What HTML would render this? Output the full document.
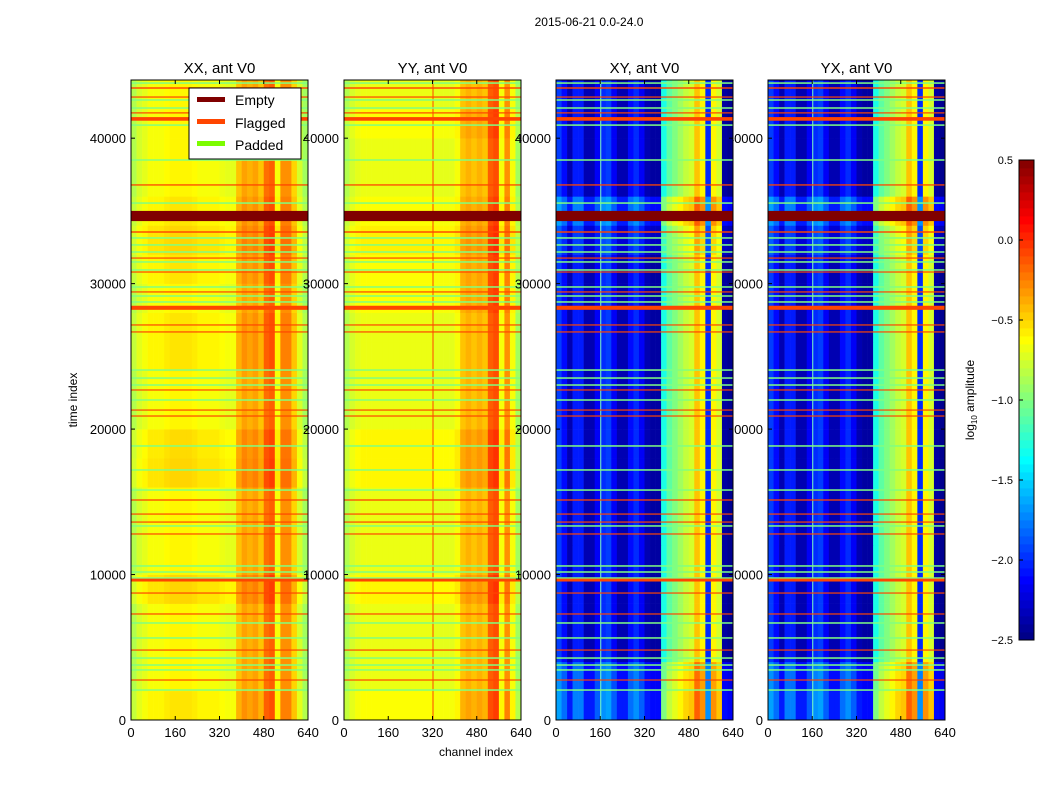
<!DOCTYPE html>
<html><head><meta charset="utf-8">
<style>
html,body{margin:0;padding:0;background:#fff;}
svg{display:block;font-family:"Liberation Sans","DejaVu Sans",sans-serif;}
</style></head>
<body>
<svg id="fig" width="1050" height="800" viewBox="0 0 1050 800">
<text x="589" y="26" font-size="12" text-anchor="middle">2015-06-21 0.0-24.0</text>
<text x="476" y="756" font-size="12" text-anchor="middle">channel index</text>
<text transform="translate(77,400) rotate(-90)" font-size="12" text-anchor="middle">time index</text>
<g id="labelsUnder"></g>
<g id="panels"></g>
<g id="labels"></g>
<g id="cbar"></g>
<text transform="translate(974,400) rotate(-90)" font-size="12" text-anchor="middle">log<tspan font-size="8" dy="3">10</tspan><tspan dy="-3"> amplitude</tspan></text>
<g id="legend">
<rect x="189" y="88" width="112" height="71" fill="#fff" stroke="#000" stroke-width="1"/>
<rect x="197" y="97" width="28" height="5" fill="#800000"/>
<text x="235" y="105" font-size="14">Empty</text>
<rect x="197" y="119" width="28" height="5" fill="#ff4500"/>
<text x="235" y="128" font-size="14">Flagged</text>
<rect x="197" y="141" width="28" height="5" fill="#7cfc00"/>
<text x="235" y="150" font-size="14">Padded</text>
</g>
</svg>
<script>
const panelTitles = ["XX, ant V0","YY, ant V0","XY, ant V0","YX, ant V0"];
const xTicks = [0,160,320,480,640];
const yTicks = [0,10000,20000,30000,40000];
const cbTicks = [0.5,0.0,-0.5,-1.0,-1.5,-2.0,-2.5];
// column profiles: 32 columns of 20 channels, log10 amplitude
const colXX = [-0.85,-0.75,-0.7,-0.65,-0.65,-0.65,-0.62,-0.6,-0.6,-0.6,-0.6,-0.62,-0.65,-0.65,-0.65,-0.65,-0.68,-0.7,-0.7,-0.45,-0.35,-0.4,-0.35,-0.45,-0.2,-0.15,-0.65,-0.3,-0.3,-0.5,-0.75,-0.9];
const colYY = [-0.85,-0.75,-0.7,-0.68,-0.68,-0.68,-0.68,-0.68,-0.68,-0.68,-0.68,-0.68,-0.68,-0.68,-0.68,-0.68,-0.7,-0.7,-0.7,-0.7,-0.65,-0.45,-0.4,-0.45,-0.4,-0.45,-0.15,-0.1,-0.65,-0.3,-0.65,-0.9];
const colXY = [-1.95,-2.1,-2.35,-2.05,-2.05,-2.35,-2.35,-2.15,-2.0,-1.95,-2.15,-2.35,-2.35,-2.1,-2.0,-2.15,-2.35,-2.4,-2.4,-1.3,-1.1,-1.0,-0.9,-0.8,-0.75,-0.45,-0.6,-2.0,-0.6,-0.75,-2.4,-2.45];
const colYX = [-1.95,-2.1,-2.35,-2.05,-2.05,-2.35,-2.35,-2.15,-2.0,-1.95,-2.15,-2.35,-2.35,-2.1,-2.0,-2.15,-2.35,-2.4,-2.4,-1.3,-1.1,-1.0,-0.9,-0.8,-0.75,-0.45,-0.6,-2.0,-0.6,-0.75,-2.4,-2.45];
// row offsets: 22 bins of 2000 time units, bottom to top
const rowXX = [0.05,0,0,0,0.1,0,0,0,0.1,0.08,0,0,0.05,0.05,0,0.05,0.1,0.05,0,0,0,0];
const rowYY = [0.05,0,0,0,0.08,0,0,0,0.08,0.08,0,0,0,0,0.05,0.05,0.1,0.05,0,0,0.05,0];
const rowXY = [0.3,0.25,0,0,0,0,0,0,0,0,0,0,0,0,0,0,0.1,0.3,0,0,0,0];
const rowYX = [0.3,0.25,0,0,0,0,0,0,0,0,0,0,0,0,0,0,0.1,0.3,0,0,0,0];
const emptyRanges = [[34300,35000]];
const flaggedRanges = [[43400,43500],[42800,42870],[41700,41780],[41200,41450],[36740,36830],[34850,34950],[33500,33600],[31720,31800],[30760,30840],[29390,29470],[28200,28480],[27120,27200],[26640,26720],[22650,22730],[21270,21350],[20860,20940],[15080,15170],[14120,14200],[13570,13650],[12750,12830],[9520,9720],[8690,8770],[7250,7330],[4770,4850],[2710,2790]];
const paddedTimes = [43790,42625,42075,40900,38500,35540,33140,32660,32175,31490,30940,29770,29150,28740,24060,23510,23030,22000,18840,17190,15810,13340,10590,10175,9760,6670,5640,4260,3780,3440,2060];
const panelLeft = [131,344,556,768];
const cols = [colXX,colYY,colXY,colYX];
const rows = [rowXX,rowYY,rowXY,rowYX];
const vLinesPadded = [[],[],[160],[160]];
const vLinesFlag = [[],[320],[],[]];

const NS="http://www.w3.org/2000/svg";
const PW=177, TOP=80, BOT=720, TMAX=44000, CMAX=640, VMIN=-2.5, VMAX=0.5;
function xs(p,c){return panelLeft[p]+c/CMAX*PW;}
function ys(t){return BOT-t/TMAX*(BOT-TOP);}
function jet(v){
  let x=(v-VMIN)/(VMAX-VMIN); x=Math.max(0,Math.min(1,x));
  const f=(a)=>Math.max(0,Math.min(1,a));
  const r=f(1.5-Math.abs(4*x-3)), g=f(1.5-Math.abs(4*x-2)), b=f(1.5-Math.abs(4*x-1));
  return `rgb(${Math.round(r*255)},${Math.round(g*255)},${Math.round(b*255)})`;
}
function mk(tag,attrs,parent){const e=document.createElementNS(NS,tag);for(const k in attrs)e.setAttribute(k,attrs[k]);parent.appendChild(e);return e;}
const labelsTop=document.getElementById('labels'), labelsUnder=document.getElementById('labelsUnder'), panels=document.getElementById('panels');
for(let p=0;p<4;p++){
  const labels = p===3 ? labelsUnder : labelsTop;
  for(const t of yTicks){
    const tx=mk('text',{x:panelLeft[p]-5,y:ys(t)+5,'font-size':13,'text-anchor':'end'},labels);
    
    
    tx.textContent=t;
  }
  for(const c of xTicks){
    const tx=mk('text',{x:xs(p,c),y:BOT+17,'font-size':13,'text-anchor':'middle'},labelsTop);
    
    
    tx.textContent=c;
  }
  const tt=mk('text',{x:panelLeft[p]+PW/2,y:TOP-7,'font-size':15,'text-anchor':'middle'},labelsTop);
  
  
  tt.textContent=panelTitles[p];
}
for(let p=0;p<4;p++){
  const g=mk('g',{},panels);
  
  
  const col=cols[p], row=rows[p], cw=CMAX/col.length, rh=TMAX/row.length;
  for(let r=0;r<row.length;r++){
    for(let c=0;c<col.length;c++){
      const x0=xs(p,c*cw), x1=xs(p,(c+1)*cw), y0=ys((r+1)*rh), y1=ys(r*rh);
      const cell=mk('rect',{x:x0,y:y0,width:x1-x0+0.3,height:y1-y0+0.3,fill:jet(col[c]+row[r])},g);
      
      
    }
  }
  for(const c of vLinesPadded[p]){
    const l=mk('rect',{x:xs(p,c),y:TOP,width:1,height:BOT-TOP,fill:'#7fffbf'},g);
    
    
  }
  for(const c of vLinesFlag[p]){
    const l=mk('rect',{x:xs(p,c),y:TOP,width:1,height:BOT-TOP,fill:'#ff4500'},g);
    
    
  }
  for(const t of paddedTimes){
    const l=mk('rect',{x:panelLeft[p],y:ys(t)-0.75,width:PW,height:1.5,fill:'#80ff80'},g);
    
    
  }
  for(const [a,b] of flaggedRanges){
    const y0=ys(b), h=Math.max(1.2,ys(a)-y0);
    const l=mk('rect',{x:panelLeft[p],y:y0,width:PW,height:h,fill:'#ff4500'},g);
    
    
  }
  for(const [a,b] of emptyRanges){
    const y0=ys(b);
    const l=mk('rect',{x:panelLeft[p],y:y0,width:PW,height:ys(a)-y0,fill:'#800000'},g);
    
    
  }
  const fr=mk('rect',{x:panelLeft[p],y:TOP,width:PW,height:BOT-TOP,fill:'none',stroke:'#000','stroke-width':1},g);
  
  
  for(const t of yTicks){mk('line',{x1:panelLeft[p],x2:panelLeft[p]+4,y1:ys(t),y2:ys(t),stroke:'#000'},g);mk('line',{x1:panelLeft[p]+PW,x2:panelLeft[p]+PW-4,y1:ys(t),y2:ys(t),stroke:'#000'},g);}
  for(const c of xTicks){mk('line',{x1:xs(p,c),x2:xs(p,c),y1:BOT,y2:BOT-4,stroke:'#000'},g);mk('line',{x1:xs(p,c),x2:xs(p,c),y1:TOP,y2:TOP+4,stroke:'#000'},g);}
}
// colorbar
const cb=document.getElementById('cbar');
const CBX=1019, CBW=15, CBT=160, CBB=640, NSEG=60;
for(let i=0;i<NSEG;i++){
  const v=VMIN+(i+0.5)/NSEG*(VMAX-VMIN);
  const y1=CBB-i/NSEG*(CBB-CBT), y0=CBB-(i+1)/NSEG*(CBB-CBT);
  mk('rect',{x:CBX,y:y0,width:CBW,height:y1-y0+0.4,fill:jet(v)},cb);
}
mk('rect',{x:CBX,y:CBT,width:CBW,height:CBB-CBT,fill:'none',stroke:'#000'},cb);
for(const v of cbTicks){
  const y=CBB-(v-VMIN)/(VMAX-VMIN)*(CBB-CBT);
  mk('line',{x1:CBX,x2:CBX+4,y1:y,y2:y,stroke:'#000'},cb);
  const tx=mk('text',{x:CBX-6,y:y+4,'font-size':11,'text-anchor':'end'},cb);
  
  
  tx.textContent=(v<0?'\u2212'+Math.abs(v).toFixed(1):v.toFixed(1));
}
document.getElementById('fig').appendChild(document.getElementById('legend'));
</script>
</body></html>
